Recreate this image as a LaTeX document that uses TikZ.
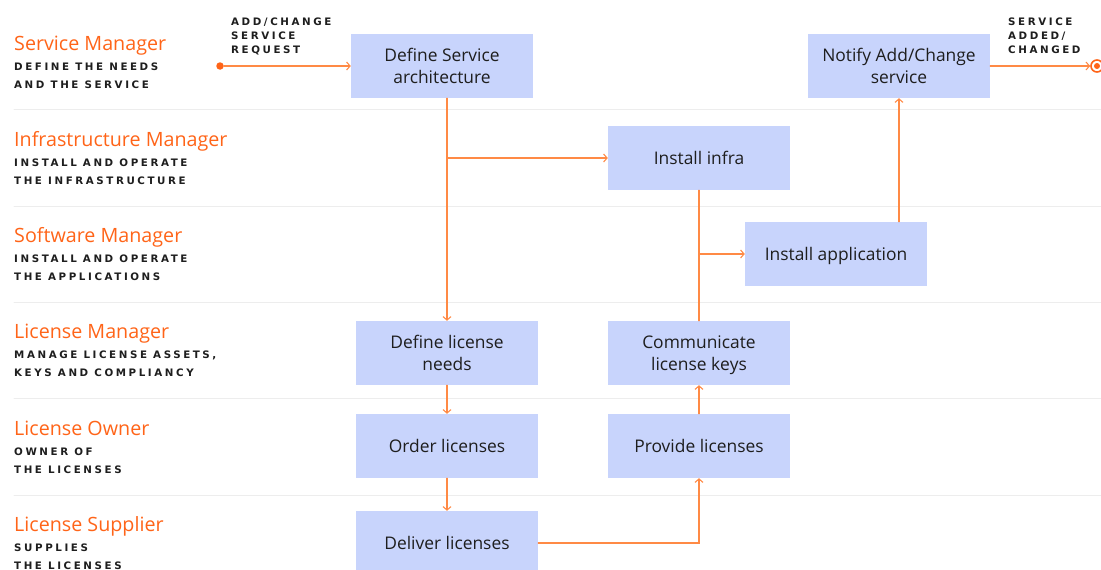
\documentclass[tikz,border=0pt]{standalone}
\usepackage{fontspec}
\setmainfont{Open Sans}
\newfontfamily\capsfont[LetterSpace=25]{DejaVu Sans}
\usetikzlibrary{arrows.meta}
\definecolor{boxblue}{HTML}{C8D4FC}
\definecolor{laneor}{HTML}{FF6418}
\definecolor{flowor}{HTML}{FF8A45}
\definecolor{ink}{HTML}{1E1E1E}
\tikzset{
  stepbox/.style={fill=boxblue, minimum width=182pt, minimum height=64pt, inner sep=0pt,
    align=center, text=ink, font=\fontsize{17.4}{22}\selectfont},
  flow/.style={draw=flowor, line width=1.1pt},
  lanetitle/.style={anchor=base west, inner sep=0pt, text=laneor, font=\fontsize{19.7}{22}\selectfont},
  lanesub/.style={anchor=north west, inner sep=0pt, align=left, text=ink,
    font=\capsfont\bfseries\fontsize{10.3}{18}\selectfont},
  flowtag/.style={lanesub, font=\capsfont\bfseries\fontsize{10.3}{14}\selectfont}
}
\begin{document}
\begin{tikzpicture}[x=1pt, y=-1pt, line cap=round, >={Straight Barb[length=3.5pt,width=8pt]}]
  \useasboundingbox (0,0) rectangle (1101,570);
  % lanes
  \foreach \y in {109,206,302,398,495}
    \draw[black!7, line width=1pt] (14,\y) -- (1101,\y);
  \node[lanetitle] (sm) at (14,50.5) {Service Manager};
  \node[lanesub] (smsub) at (14,62.5) {DEFINE THE NEEDS\\AND THE SERVICE};
  \node[lanetitle] (im) at (14,146.5) {Infrastructure Manager};
  \node[lanesub] (imsub) at (14,158.5) {INSTALL AND OPERATE\\THE INFRASTRUCTURE};
  \node[lanetitle] (swm) at (14,242.5) {Software Manager};
  \node[lanesub] (swmsub) at (14,254.5) {INSTALL AND OPERATE\\THE APPLICATIONS};
  \node[lanetitle] (lm) at (14,338.5) {License Manager};
  \node[lanesub] (lmsub) at (14,351) {MANAGE LICENSE ASSETS,\\KEYS AND COMPLIANCY};
  \node[lanetitle] (lo) at (14,435.5) {License Owner};
  \node[lanesub] (losub) at (14,447.5) {OWNER OF\\THE LICENSES};
  \node[lanetitle] (ls) at (14,531.5) {License Supplier};
  \node[lanesub] (lssub) at (14,544) {SUPPLIES\\THE LICENSES};
  % steps
  \node[stepbox] (dsa) at (442,66) {Define Service\\architecture};
  \node[stepbox] (nas) at (899,66) {Notify Add/Change\\service};
  \node[stepbox] (infra) at (699,158) {Install infra};
  \node[stepbox] (app) at (836,254) {Install a\smash{pp}lication};
  \node[stepbox] (dln) at (447,353) {Define license\\needs};
  \node[stepbox] (clk) at (699,353) {Communicate\\license ke\smash{y}s};
  \node[stepbox] (ol) at (447,446) {Order licenses};
  \node[stepbox] (pl) at (699,446) {Provide licenses};
  \node[stepbox] (dl) at (447,543) {Deliver licenses};
  % start and end
  \node[circle, fill=laneor, inner sep=0pt, minimum size=7.5pt] (start) at (220,66) {};
  \node[circle, draw=laneor, line width=1.6pt, fill=white, inner sep=0pt, minimum size=12pt] (finish) at (1097,66) {};
  \fill[laneor] (finish.center) circle (3pt);
  \node[flowtag] (req) at (231,17.5) {ADD/CHANGE\\SERVICE\\REQUEST};
  \node[flowtag] (done) at (1008,17.5) {SERVICE\\ADDED/\\CHANGED};
  % flows
  \draw[flow,->] (start) -- (dsa);
  \draw[flow,->] (dln.north |- dsa.south) -- (dln);
  \draw[flow,->] (dln.north |- infra.west) -- (infra);
  \draw[flow] (infra) -- (clk);
  \draw[flow,->] (infra.south |- app.west) -- (app);
  \draw[flow,->] (app.north -| nas.south) -- (nas);
  \draw[flow,->] (nas) -- (finish);
  \draw[flow,->] (dln) -- (ol);
  \draw[flow,->] (ol) -- (dl);
  \draw[flow,->] (dl) -| (pl);
  \draw[flow,->] (pl) -- (clk);
\end{tikzpicture}
\end{document}
